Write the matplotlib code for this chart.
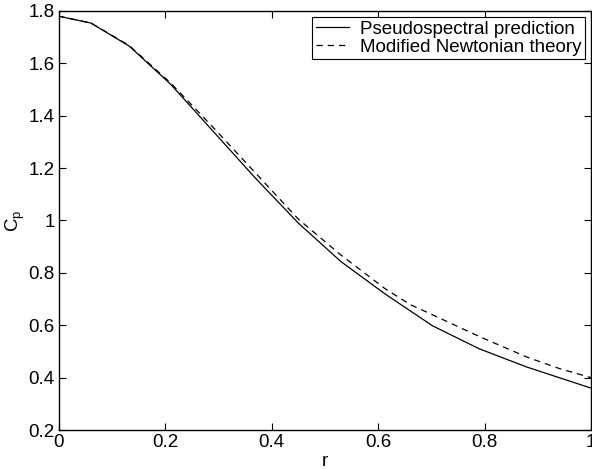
import numpy as np
import matplotlib
matplotlib.use("Agg")
import matplotlib.pyplot as plt

# values
r_spec = [0.0, 0.06, 0.132, 0.21, 0.29, 0.37, 0.45, 0.53, 0.614, 0.702, 0.79, 0.88, 1.0]
cp_spec = [1.78, 1.754, 1.666, 1.52, 1.34, 1.16, 0.99, 0.843, 0.718, 0.598, 0.51, 0.44, 0.36]

r_newt = [0.0, 0.06, 0.132, 0.21, 0.29, 0.37, 0.45, 0.53, 0.614, 0.661, 0.702, 0.79, 0.88, 0.94, 1.0]
cp_newt = [1.78, 1.754, 1.668, 1.525, 1.355, 1.18, 1.005, 0.868, 0.738, 0.678, 0.64, 0.557, 0.478, 0.435, 0.40]

xticks = [0, 0.2, 0.4, 0.6, 0.8, 1]
yticks = [0.2, 0.4, 0.6, 0.8, 1, 1.2, 1.4, 1.6, 1.8]

plt.rcParams["font.family"] = ["Liberation Sans", "DejaVu Sans"]
plt.rcParams["font.size"] = 13.5

fig = plt.figure(figsize=(5.92, 4.69), dpi=100)
ax = fig.add_axes([59 / 592, 1 - 430 / 469, 532 / 592, 419 / 469])

ax.plot(r_spec, cp_spec, "k-", lw=0.9, label="Pseudospectral prediction")
ax.plot(r_newt, cp_newt, "k--", lw=0.9, dashes=(5, 4), label="Modified Newtonian theory")

ax.set_xlim(0, 1)
ax.set_ylim(0.2, 1.8)
ax.set_xticks(xticks)
ax.set_xticklabels(["0", "0.2", "0.4", "0.6", "0.8", "1"])
ax.set_yticks(yticks)
ax.set_yticklabels(["0.2", "0.4", "0.6", "0.8", "1", "1.2", "1.4", "1.6", "1.8"])
ax.tick_params(direction="in", length=5, width=0.8, top=True, right=True, pad=3)
for s in ax.spines.values():
    s.set_linewidth(1.0)

ax.set_xlabel("r", labelpad=1)
ax.set_ylabel("C$_\\mathregular{p}$", labelpad=1)

leg = ax.legend(loc="upper right", fancybox=False, edgecolor="black", framealpha=1,
                handlelength=1.75, borderaxespad=0.3, borderpad=0.2, labelspacing=0.05,
                handletextpad=0.6)
leg.get_frame().set_linewidth(0.8)

fig.savefig("out.png", dpi=100)
